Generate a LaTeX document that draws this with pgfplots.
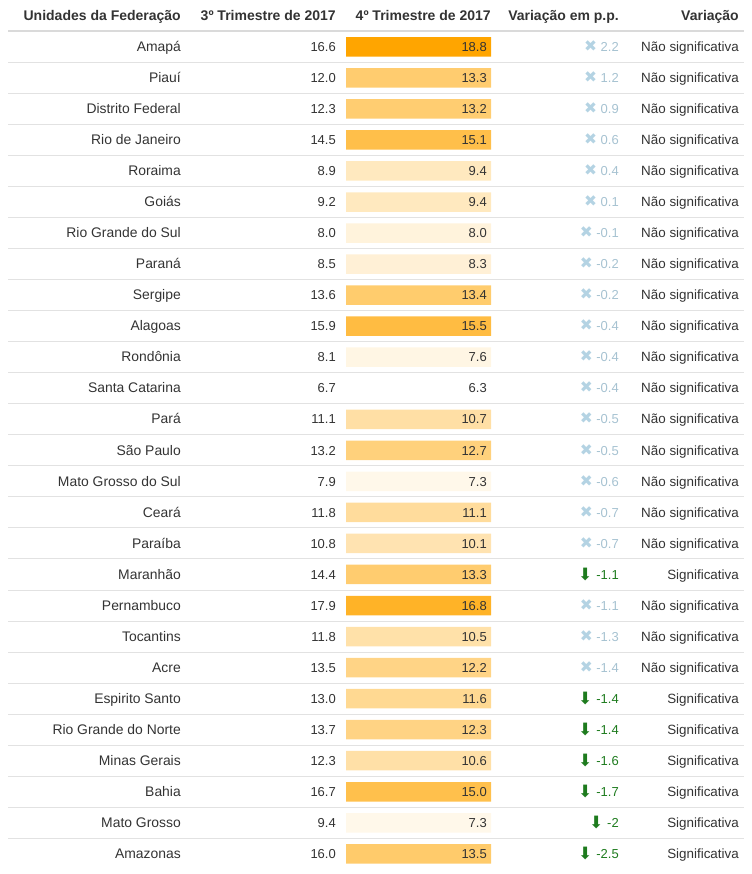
\documentclass[border=0pt]{standalone}
\usepackage{pgfplots}
\pgfplotsset{compat=1.18}
\usepackage{pgfplotstable}
\usepackage{fontspec}
\setmainfont{Liberation Sans}
\newfontfamily\djv{DejaVu Sans}
\definecolor{txt}{HTML}{333333}
\definecolor{nsx}{HTML}{B4D3E3}
\definecolor{nsn}{HTML}{A6C2D1}
\definecolor{sgc}{HTML}{1E7B1E}
\definecolor{sep}{HTML}{E2E2E2}
\definecolor{hsep}{HTML}{DADADA}
\newcommand\nx[1]{{\djv\color{nsx}\fontsize{15.5}{15}\selectfont ✖}\hspace{3.5pt}{\color{nsn}#1}}
\newcommand\sg[1]{\raisebox{-1pt}{\djv\color{sgc}\fontsize{17}{17}\selectfont ⬇}\hspace{4pt}{\color{sgc}#1}}
\pgfdeclareplotmark{cell}{%
  \pgfsetcornersarced{\pgfqpoint{3.5pt}{3.5pt}}%
  \pgfpathmoveto{\pgfqpoint{-72.5pt}{0pt}}%
  \pgfpathlineto{\pgfqpoint{-72.5pt}{9.75pt}}%
  \pgfpathlineto{\pgfqpoint{72.5pt}{9.75pt}}%
  \pgfpathlineto{\pgfqpoint{72.5pt}{-9.75pt}}%
  \pgfpathlineto{\pgfqpoint{-72.5pt}{-9.75pt}}%
  \pgfpathclose
  \pgfusepathqfill}

\pgfplotstableread{
name q3 q4 v sig
Amapá 16.6 18.8 {\nx{2.2}} {Não significativa}
Piauí 12.0 13.3 {\nx{1.2}} {Não significativa}
{Distrito Federal} 12.3 13.2 {\nx{0.9}} {Não significativa}
{Rio de Janeiro} 14.5 15.1 {\nx{0.6}} {Não significativa}
Roraima 8.9 9.4 {\nx{0.4}} {Não significativa}
Goiás 9.2 9.4 {\nx{0.1}} {Não significativa}
{Rio Grande do Sul} 8.0 8.0 {\nx{-0.1}} {Não significativa}
Paraná 8.5 8.3 {\nx{-0.2}} {Não significativa}
Sergipe 13.6 13.4 {\nx{-0.2}} {Não significativa}
Alagoas 15.9 15.5 {\nx{-0.4}} {Não significativa}
Rondônia 8.1 7.6 {\nx{-0.4}} {Não significativa}
{Santa Catarina} 6.7 6.3 {\nx{-0.4}} {Não significativa}
Pará 11.1 10.7 {\nx{-0.5}} {Não significativa}
{São Paulo} 13.2 12.7 {\nx{-0.5}} {Não significativa}
{Mato Grosso do Sul} 7.9 7.3 {\nx{-0.6}} {Não significativa}
Ceará 11.8 11.1 {\nx{-0.7}} {Não significativa}
Paraíba 10.8 10.1 {\nx{-0.7}} {Não significativa}
Maranhão 14.4 13.3 {\sg{-1.1}} {Significativa}
Pernambuco 17.9 16.8 {\nx{-1.1}} {Não significativa}
Tocantins 11.8 10.5 {\nx{-1.3}} {Não significativa}
Acre 13.5 12.2 {\nx{-1.4}} {Não significativa}
{Espirito Santo} 13.0 11.6 {\sg{-1.4}} {Significativa}
{Rio Grande do Norte} 13.7 12.3 {\sg{-1.4}} {Significativa}
{Minas Gerais} 12.3 10.6 {\sg{-1.6}} {Significativa}
Bahia 16.7 15.0 {\sg{-1.7}} {Significativa}
{Mato Grosso} 9.4 7.3 {\sg{-2}} {Significativa}
Amazonas 16.0 13.5 {\sg{-2.5}} {Significativa}
}\data

\pgfplotstableread{
x lab
181 {Unidades da Federação}
336 {3º Trimestre de 2017}
491 {4º Trimestre de 2017}
619 {Variação em p.p.}
739 {Variação}
}\head

\begin{document}
\begin{tikzpicture}
\begin{axis}[
  scale only axis, width=752pt, height=874pt,
  xmin=0, xmax=752, ymin=-0.5077, ymax=27.649, y dir=reverse,
  axis line style={draw=none}, xtick=\empty, ytick=\empty, clip=false,
  colormap={org}{rgb255=(255,255,255) rgb255=(255,165,0)},
  point meta min=6.3, point meta max=18.8,
  txtcol/.style={draw=none, mark=none, nodes near coords, point meta=explicit symbolic,
    every node near coord/.append style={anchor=base east, inner sep=0pt, yshift=-4.7pt,
      text=txt, font=\fontsize{13}{15}\selectfont}},
]
% separators
\addplot[hsep, line width=2pt] coordinates {(8,0.5) (744,0.5)};
\pgfplotsinvokeforeach{1,...,26}{
  \addplot[sep, line width=1pt] coordinates {(8,#1.5) (744,#1.5)};
}
% coloured cells
\addplot[scatter, only marks, mark=cell, point meta=\thisrow{q4},
  scatter/use mapped color={draw=none, fill=mapped color}]
  table[x expr=418.5, y expr=\coordindex+1] {\data};
% header
\addplot[txtcol, every node near coord/.append style={font=\bfseries\fontsize{14}{15}\selectfont}]
  table[x=x, y expr=0, meta=lab] {\head};
% columns
\addplot[txtcol, every node near coord/.append style={font=\fontsize{13.9}{15}\selectfont}]
  table[x expr=181, y expr=\coordindex+1, meta=name] {\data};
\addplot[txtcol] table[x expr=336, y expr=\coordindex+1, meta=q3] {\data};
\addplot[txtcol] table[x expr=487, y expr=\coordindex+1, meta=q4] {\data};
\addplot[txtcol] table[x expr=619, y expr=\coordindex+1, meta=v] {\data};
\addplot[txtcol, every node near coord/.append style={font=\fontsize{13.4}{15}\selectfont}]
  table[x expr=739, y expr=\coordindex+1, meta=sig] {\data};
\end{axis}
\end{tikzpicture}
\end{document}
